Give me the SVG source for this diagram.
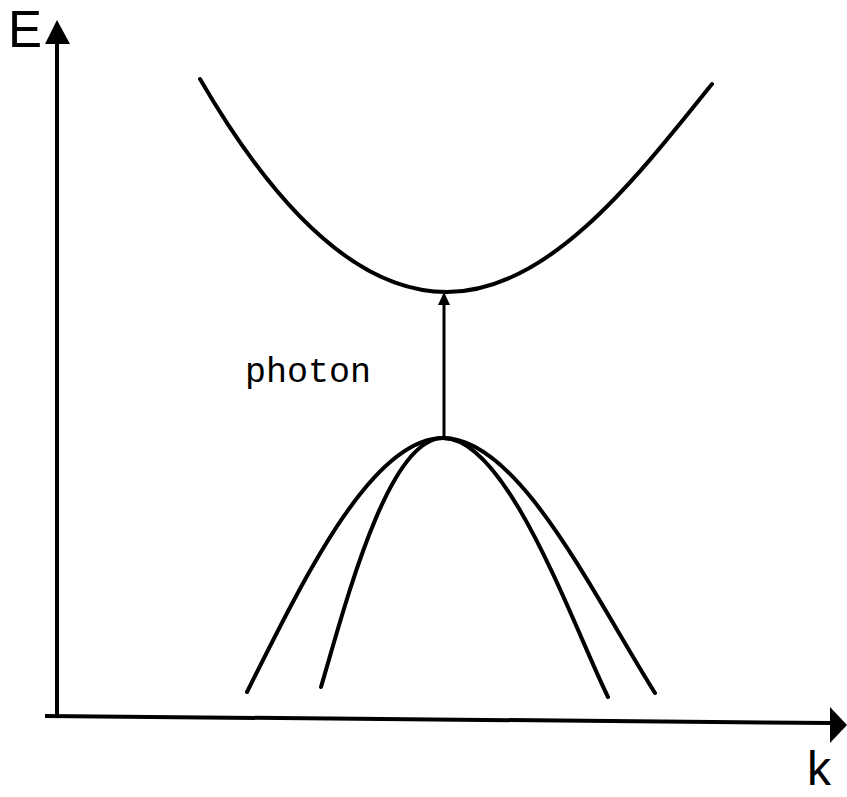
<svg xmlns="http://www.w3.org/2000/svg" width="847" height="797" viewBox="0 0 847 797">
<style>
.curve{fill:none;stroke:#000;stroke-width:4;stroke-linecap:round;stroke-linejoin:round}
.axis{fill:none;stroke:#000;stroke-width:4}
.lbl{font-family:"Liberation Sans",Arial,sans-serif;fill:#000}
.mono{font-family:"Liberation Mono","Courier New",monospace;fill:#000}
</style>
<rect width="847" height="797" fill="#fff"/>
<g id="axes">
<line class="axis" x1="57" y1="42" x2="57" y2="718"/>
<polygon points="57,20 45,44 70,44" fill="#000"/>
<line class="axis" x1="45" y1="716" x2="832" y2="723"/>
<polygon points="847,725 830,707 830,743" fill="#000"/>
</g>
<g id="label-E"><text class="lbl" x="8" y="47" font-size="51">E</text></g>
<g id="label-k"><text class="lbl" x="807" y="785" font-size="48">k</text></g>
<g id="conduction-band">
<path class="curve" d="M200,79 Q323.5,292 447,292 C547,292 632,184 712,84"/>
</g>
<g id="valence-band-outer">
<path class="curve" d="M247,692 C307,572 373,438 443,438 C518,438 590,589 655,693"/>
</g>
<g id="valence-band-inner">
<path class="curve" d="M321,687 C346,602 388,438 443,438 C508,438 573,626 608,697"/>
</g>
<g id="connectors">
<line x1="444" y1="438" x2="444" y2="302" stroke="#000" stroke-width="3"/>
<polygon points="444,292 438,305 450,305" fill="#000"/>
</g>
<g id="label-photon"><text class="mono" x="245" y="382" font-size="35">photon</text></g>
</svg>
